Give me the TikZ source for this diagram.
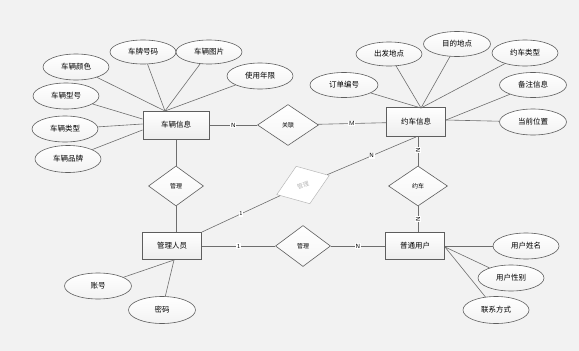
\documentclass[tikz,border=0pt]{standalone}
\usepackage{fontspec}
\newfontfamily\cjk{Noto Sans CJK SC}
\usetikzlibrary{shapes.geometric}
\definecolor{bg}{HTML}{F2F2F2}
\definecolor{ln}{HTML}{6E6E6E}
\definecolor{bd}{HTML}{5E5E5E}
\definecolor{fade}{HTML}{B8B8B8}
\begin{document}
\begin{tikzpicture}[x=1pt,y=-1pt,
 entity/.style={draw=bd, line width=1pt, top color=white, bottom color=gray!14, minimum width=60pt, minimum height=27pt, inner sep=0pt, font=\cjk\fontsize{7.5}{8}\selectfont},
 attr/.style={ellipse, draw=bd, line width=0.6pt, top color=white, bottom color=gray!10, minimum width=66pt, minimum height=26pt, inner sep=0pt, font=\cjk\fontsize{7.5}{8}\selectfont},
 rel/.style={diamond, draw=bd, line width=0.6pt, top color=white, bottom color=gray!8, minimum width=57pt, minimum height=40pt, inner sep=0pt, font=\cjk\fontsize{6}{7}\selectfont},
 conn/.style={draw=ln, line width=0.6pt},
 card/.style={fill=white, inner sep=0.8pt, font=\sffamily\fontsize{6}{6}\selectfont}
]
\fill[bg] (0,0) rectangle (579,351);
\useasboundingbox (0,0) rectangle (579,351);

% entities
\node[entity, minimum width=66pt, minimum height=28pt] (car) at (176,125) {车辆信息};
\node[entity, minimum width=59pt, minimum height=29pt] (order) at (416,122) {约车信息};
\node[entity, minimum width=59pt] (mgr) at (172,246) {管理人员};
\node[entity, minimum width=59pt] (user) at (415,246) {普通用户};

% relationships
\node[rel, minimum width=61pt, minimum height=41pt] (rA) at (288,125) {关联};
\node[rel, minimum width=55pt] (rB) at (176,186) {管理};
\node[rel, minimum width=59pt] (rC) at (418,186) {约车};
\node[rel, minimum width=55pt, minimum height=41pt] (rD) at (303,246) {管理};
\node[diamond, draw=fade, line width=0.5pt, fill=white, minimum width=56pt, minimum height=40pt, inner sep=0pt, rotate=20, text=fade, font=\cjk\fontsize{6}{7}\selectfont] (rE) at (303,185) {管理};

% attribute convergence points
\coordinate (carTop) at (165,111);
\coordinate (ordTop) at (421,108);
\coordinate (ordR) at (446,120);
\coordinate (mgrB) at (174,260);
\coordinate (userR) at (445,247);

% car attributes
\node[attr] (a1) at (76,67) {车辆颜色};
\node[attr, minimum height=24pt] (a2) at (143,52) {车牌号码};
\node[attr, minimum height=24pt] (a3) at (209,52) {车辆图片};
\node[attr] (a4) at (260,76) {使用年限};
\node[attr] (a5) at (66,96) {车辆型号};
\node[attr] (a6) at (65,129) {车辆类型};
\node[attr, minimum height=27pt] (a7) at (68,159) {车辆品牌};

% order attributes
\node[attr, minimum width=68pt, minimum height=25pt] (b1) at (344,85) {订单编号};
\node[attr, minimum height=24pt] (b2) at (389,54) {出发地点};
\node[attr, minimum width=67pt, minimum height=25pt] (b3) at (457,44) {目的地点};
\node[attr] (b4) at (525,53) {约车类型};
\node[attr, minimum width=67pt, minimum height=25pt] (b5) at (533,85) {备注信息};
\node[attr, minimum width=67pt] (b6) at (533,122) {当前位置};

% manager attributes
\node[attr, minimum width=67pt] (c1) at (98,286) {账号};
\node[attr, minimum width=67pt, minimum height=27pt] (c2) at (162,310) {密码};

% user attributes
\node[attr] (d1) at (526,246) {用户姓名};
\node[attr] (d2) at (511,278) {用户性别};
\node[attr, minimum height=27pt] (d3) at (496,310) {联系方式};

% attribute connectors
\foreach \a in {a1,a2,a3,a4} \draw[conn] (\a) -- (carTop);
\draw[conn] (a5) -- (car.west |- 0,119);
\draw[conn] (a6) -- (car.west |- 0,124);
\draw[conn] (a7) -- (car.west |- 0,130);
\foreach \b in {b1,b2,b3,b4} \draw[conn] (\b) -- (ordTop);
\draw[conn] (b5) -- (ordR);
\draw[conn] (b6) -- (ordR);
\draw[conn] (c1) -- (mgrB);
\draw[conn] (c2) -- (mgrB);
\draw[conn] (d1) -- (user.east);
\draw[conn] (d2) -- (userR);
\draw[conn] (d3) -- (userR);

% relationship connectors
\draw[conn] (car) -- node[card] {N} (rA);
\draw[conn] (rA) -- node[card] {M} (order);
\draw[conn] (car) -- (rB);
\draw[conn] (rB) -- (mgr.north -| rB);
\draw[conn] (mgr.north east) -- node[card, pos=0.5] {1} (rE);
\draw[conn] (rE) -- node[card, pos=0.5] {N} (order.south);
\draw[conn] (order.south -| rC) -- node[card, rotate=90, pos=0.45] {N} (rC);
\draw[conn] (rC) -- node[card, rotate=90, pos=0.5] {N} (user.north -| rC);
\draw[conn] (mgr) -- node[card] {1} (rD);
\draw[conn] (rD) -- node[card] {N} (user);
\end{tikzpicture}
\end{document}
